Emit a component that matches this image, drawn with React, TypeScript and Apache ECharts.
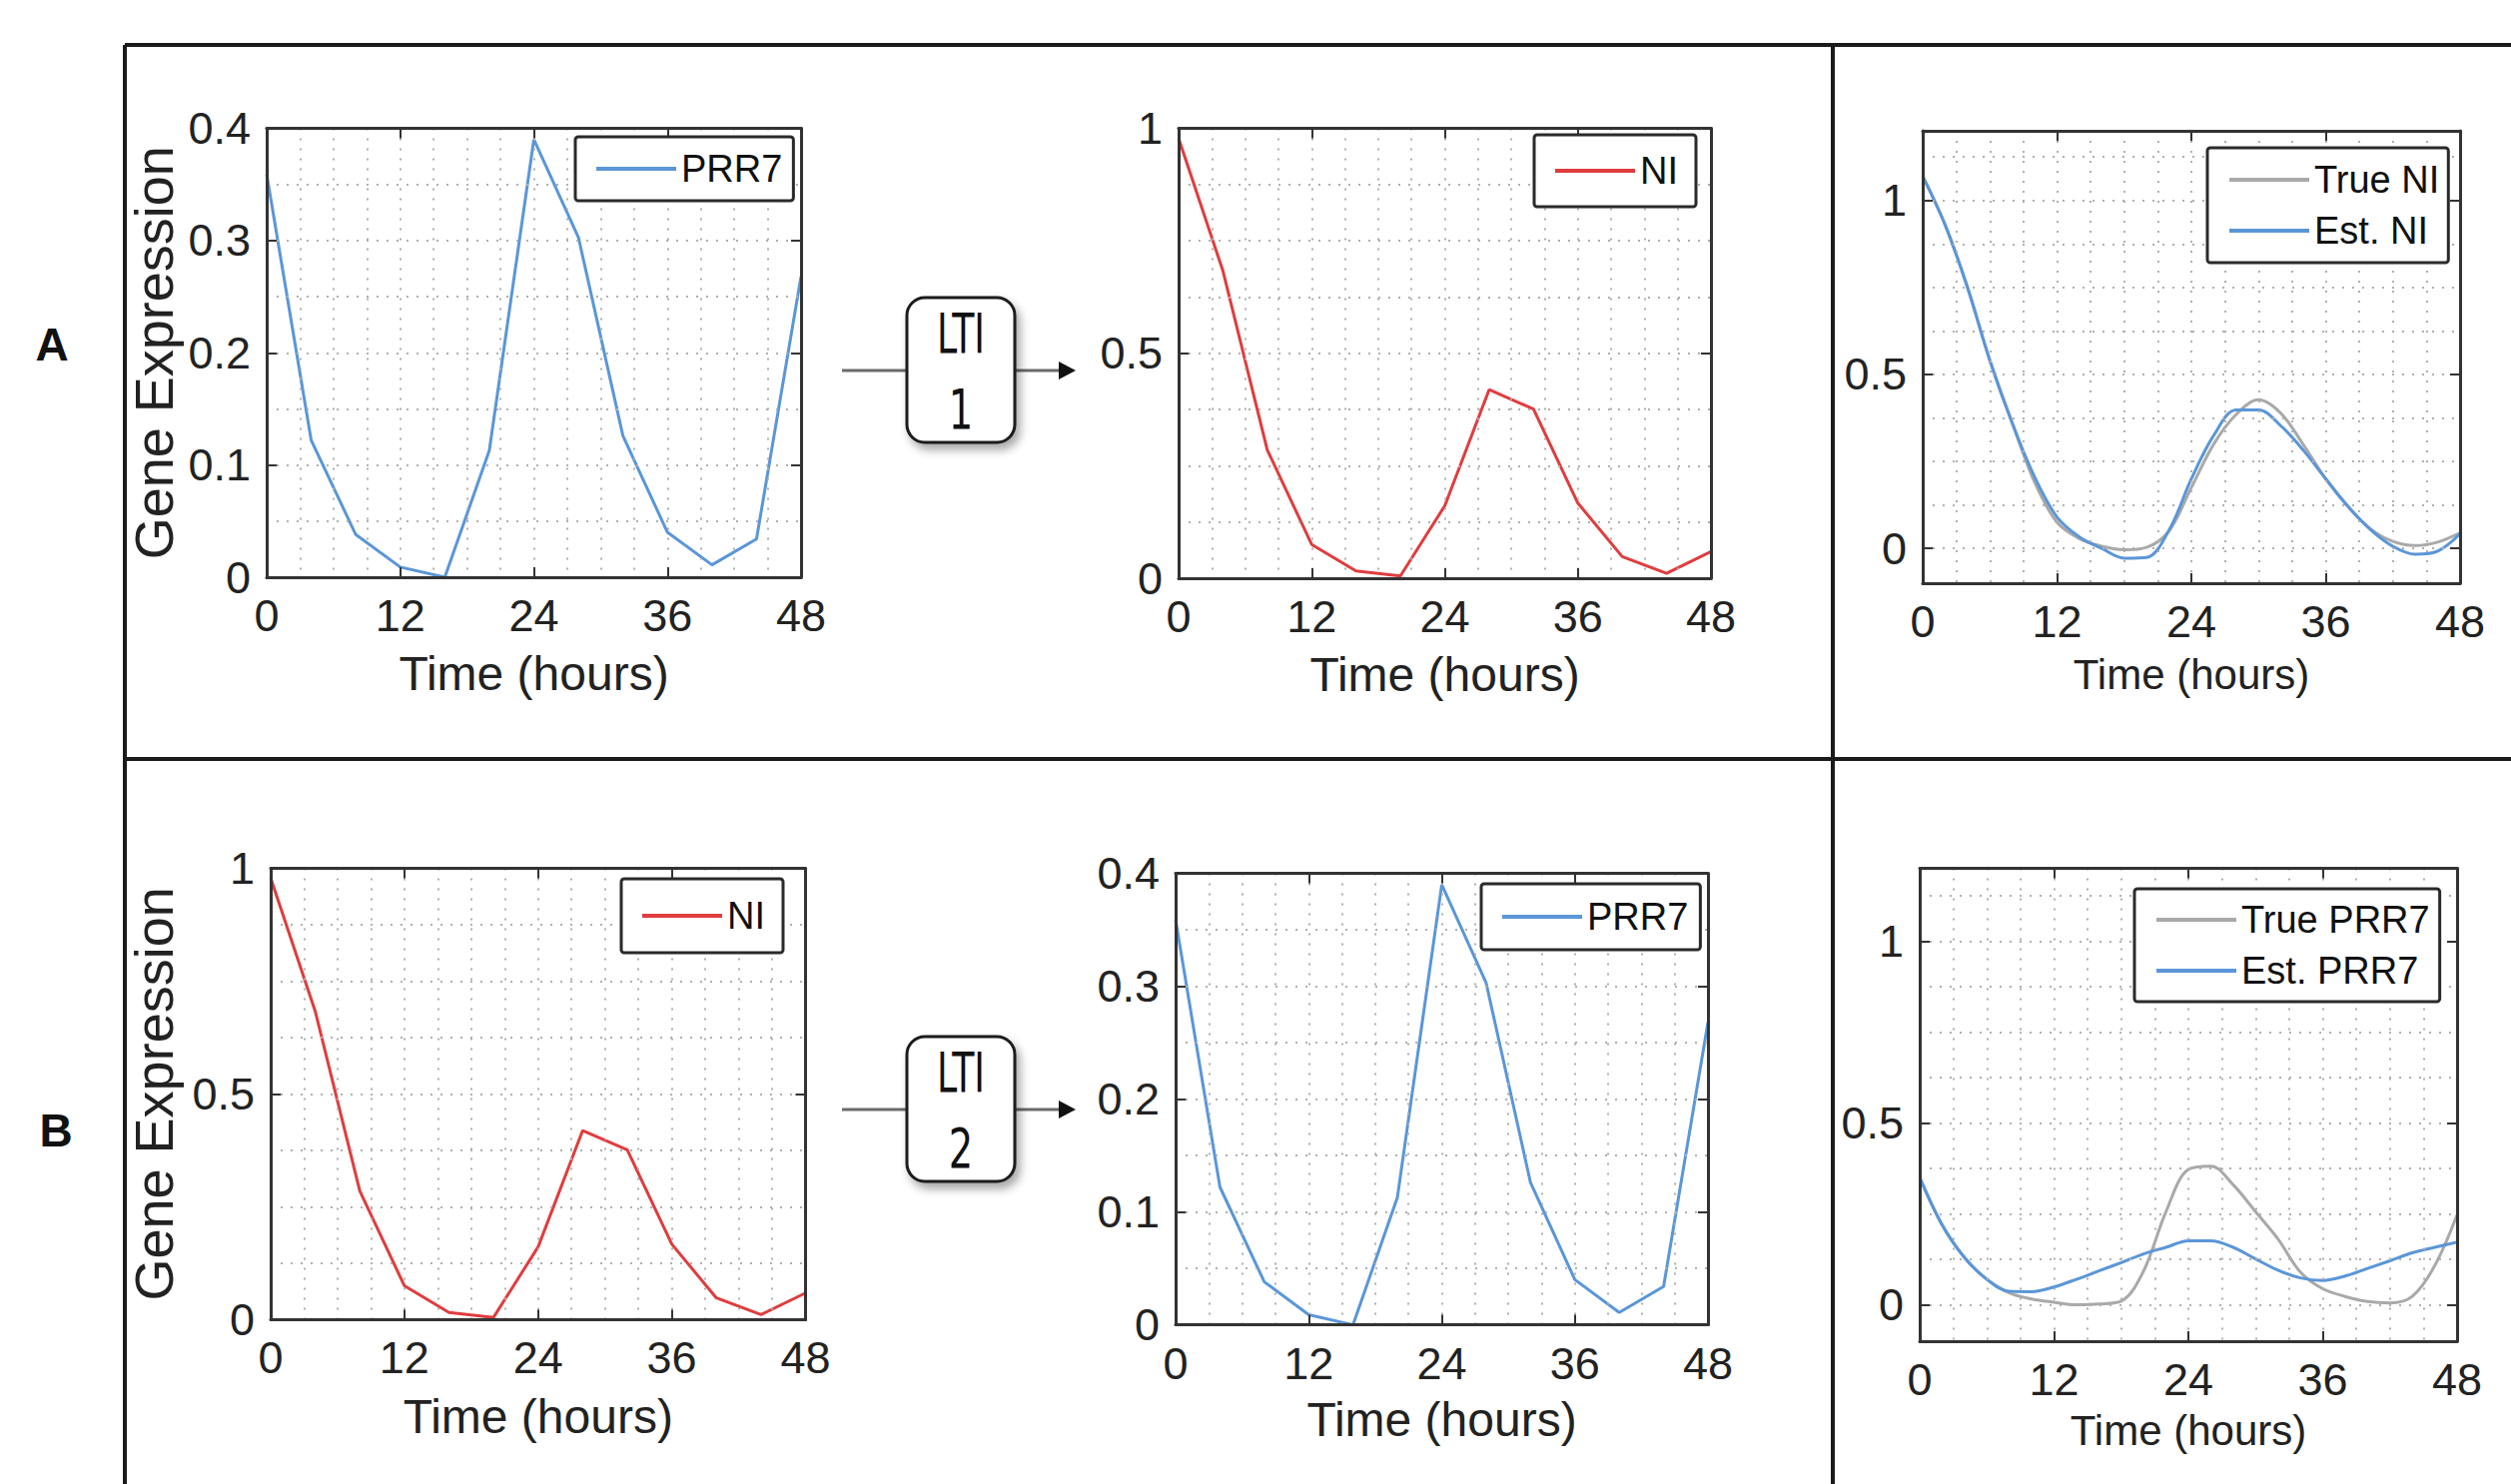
import React, { useEffect, useRef } from "react";
import * as echarts from "echarts";

// ---------- data ----------
const HOURS_4 = [0, 4, 8, 12, 16, 20, 24, 28, 32, 36, 40, 44, 48];
const PRR7_VALUES = [0.359, 0.122, 0.038, 0.009, 0.0, 0.113, 0.39, 0.303, 0.126, 0.04, 0.011, 0.034, 0.268];
const NI_VALUES = [0.978, 0.683, 0.285, 0.075, 0.016, 0.005, 0.161, 0.419, 0.376, 0.167, 0.048, 0.011, 0.059];

const HOURS_2 = [0, 2, 4, 6, 8, 10, 12, 14, 16, 18, 20, 22, 24, 26, 28, 30, 32, 34, 36, 38, 40, 42, 44, 46, 48];
const TRUE_NI = [1.07, 0.93, 0.75, 0.54, 0.36, 0.19, 0.075, 0.028, 0.006, -0.004, 0.003, 0.05, 0.175, 0.3, 0.385, 0.427, 0.388, 0.298, 0.2, 0.12, 0.056, 0.02, 0.008, 0.018, 0.045];
const EST_NI = [1.07, 0.93, 0.75, 0.54, 0.36, 0.205, 0.09, 0.033, 0.0, -0.028, -0.026, 0.052, 0.2, 0.325, 0.398, 0.398, 0.352, 0.282, 0.2, 0.12, 0.054, 0.006, -0.017, -0.008, 0.042];
const TRUE_PRR7 = [0.35, 0.22, 0.13, 0.07, 0.033, 0.016, 0.007, 0.0, 0.002, 0.01, 0.093, 0.256, 0.372, 0.381, 0.33, 0.256, 0.181, 0.09, 0.044, 0.023, 0.009, 0.005, 0.023, 0.107, 0.247];
const EST_PRR7 = [0.35, 0.22, 0.13, 0.07, 0.037, 0.036, 0.049, 0.07, 0.093, 0.116, 0.14, 0.158, 0.176, 0.176, 0.158, 0.126, 0.095, 0.074, 0.067, 0.079, 0.1, 0.121, 0.143, 0.158, 0.172];

const X_TICKS_STEP = 12;
const EST_Y_LABELS = [0, 0.5, 1];
const EST_Y_GRID = [0, 0.125, 0.25, 0.375, 0.5, 0.625, 0.75, 0.875, 1, 1.125];
const X_NAME = "Time (hours)";
const Y_NAME = "Gene Expression";

// ---------- styles ----------
const BLUE = "#5a96d8";
const RED = "#e03c3e";
const GRAY = "#a9a9a9";
const GRID_C = "#b0b0b0";
const INK = "#222";
const AXIS_C = "#333";
const FONT_R = "'Liberation Sans', Arial, sans-serif";
const TICK_FS = 45;
const LEGEND_FS = 38;

type SeriesDef = { name: string; x: number[]; y: number[]; color: string };
type Panel = {
  grid: [number, number, number, number];
  yKind: "p" | "n" | "e";
  yName?: string;
  yNameGap?: number;
  xNameGap: number;
  nameSize: number;
  legend: [number, number, number[]];
  smooth: boolean;
  series: SeriesDef[];
};

const PANELS: Panel[] = [
  {
    grid: [267, 128.5, 535, 449.5], yKind: "p", yName: Y_NAME, yNameGap: 86, xNameGap: 72, nameSize: 48,
    legend: [576, 137, [8, 11, 8, 19]], smooth: false,
    series: [{ name: "PRR7", x: HOURS_4, y: PRR7_VALUES, color: BLUE }],
  },
  {
    grid: [1180, 128.5, 533, 450.5], yKind: "n", xNameGap: 72, nameSize: 48,
    legend: [1536, 135, [12, 18, 12, 19]], smooth: false,
    series: [{ name: "NI", x: HOURS_4, y: NI_VALUES, color: RED }],
  },
  {
    grid: [1925, 131, 538, 453], yKind: "e", xNameGap: 70, nameSize: 42,
    legend: [2210, 148, [8, 9, 8, 20]], smooth: true,
    series: [
      { name: "True NI", x: HOURS_2, y: TRUE_NI, color: GRAY },
      { name: "Est. NI", x: HOURS_2, y: EST_NI, color: BLUE },
    ],
  },
  {
    grid: [271, 869.4, 535.5, 452], yKind: "n", yName: Y_NAME, yNameGap: 90, xNameGap: 73, nameSize: 48,
    legend: [622, 880, [13, 18, 13, 19]], smooth: false,
    series: [{ name: "NI", x: HOURS_4, y: NI_VALUES, color: RED }],
  },
  {
    grid: [1177, 874.6, 533, 452], yKind: "p", xNameGap: 71, nameSize: 48,
    legend: [1483, 885, [9, 12, 9, 19]], smooth: false,
    series: [{ name: "PRR7", x: HOURS_4, y: PRR7_VALUES, color: BLUE }],
  },
  {
    grid: [1922, 869.4, 538, 473.6], yKind: "e", xNameGap: 68, nameSize: 42,
    legend: [2137, 890, [7, 10, 7, 20]], smooth: true,
    series: [
      { name: "True PRR7", x: HOURS_2, y: TRUE_PRR7, color: GRAY },
      { name: "Est. PRR7", x: HOURS_2, y: EST_PRR7, color: BLUE },
    ],
  },
];

const gridLine = (color: any) => ({ show: true, lineStyle: { color, width: 2, type: [2, 8] } });
const axisLine = { show: true, onZero: false, lineStyle: { color: AXIS_C, width: 3 } };
const tickStyle = { show: true, inside: true, length: 10, lineStyle: { color: AXIS_C, width: 2 } };

function yRange(kind: string) {
  if (kind === "p") return { min: 0, max: 0.4, interval: 0.1, minorSplit: 2 };
  return { min: 0, max: 1, interval: 0.5, minorSplit: 4 };
}

function buildOption() {
  const grids: any[] = [];
  const xAxes: any[] = [];
  const yAxes: any[] = [];
  const series: any[] = [];
  const legends: any[] = [];

  PANELS.forEach((p, i) => {
    const [l, t, w, h] = p.grid;
    grids.push({ left: l, top: t, width: w, height: h, show: true, backgroundColor: "#fff", borderWidth: 0 });

    const xIndex = xAxes.length;
    const xc = { type: "value", min: 0, max: 48, interval: X_TICKS_STEP, gridIndex: i };
    xAxes.push({
      ...xc,
      position: "bottom",
      name: X_NAME,
      nameLocation: "middle",
      nameGap: p.xNameGap,
      nameTextStyle: { fontFamily: FONT_R, fontSize: p.nameSize, color: INK },
      axisLine,
      axisTick: tickStyle,
      axisLabel: { margin: 16, fontFamily: FONT_R, fontSize: TICK_FS, color: INK },
      splitLine: gridLine(GRID_C),
      minorTick: { show: false, splitNumber: 4 },
      minorSplitLine: gridLine(GRID_C),
      z: 5,
    });
    xAxes.push({
      ...xc,
      position: "top",
      axisLine,
      axisTick: tickStyle,
      axisLabel: { show: false },
      splitLine: { show: false },
      z: 5,
    });

    const yIndex = yAxes.length;
    const yNameOpts = {
      name: p.yName || "",
      nameLocation: "middle",
      nameRotate: 90,
      nameGap: p.yNameGap || 0,
      nameTextStyle: { fontFamily: FONT_R, fontSize: 54, color: INK },
    };
    const labelBase = { margin: 16, fontFamily: FONT_R, fontSize: TICK_FS, color: INK };

    if (p.yKind === "e") {
      const yc = { type: "value", min: -0.1, max: 1.2, gridIndex: i };
      yAxes.push({
        ...yc,
        ...yNameOpts,
        position: "left",
        axisLine,
        axisTick: { show: false, customValues: EST_Y_GRID },
        axisLabel: { ...labelBase, customValues: EST_Y_LABELS, formatter: (v: number) => String(v) },
        splitLine: gridLine(GRID_C),
        minorSplitLine: { show: false },
        z: 5,
      });
      yAxes.push({
        ...yc,
        position: "left",
        offset: 0,
        axisLine: { show: false },
        axisTick: { ...tickStyle, customValues: EST_Y_LABELS },
        axisLabel: { show: false },
        splitLine: { show: false },
        z: 5,
      });
      yAxes.push({
        ...yc,
        position: "right",
        axisLine,
        axisTick: { ...tickStyle, customValues: EST_Y_LABELS },
        axisLabel: { show: false },
        splitLine: { show: false },
        z: 5,
      });
    } else {
      const yr = yRange(p.yKind);
      const yc = { type: "value", min: yr.min, max: yr.max, interval: yr.interval, gridIndex: i };
      yAxes.push({
        ...yc,
        ...yNameOpts,
        position: "left",
        axisLine,
        axisTick: tickStyle,
        axisLabel: { ...labelBase, formatter: (v: number) => String(Math.round(v * 1000) / 1000) },
        splitLine: gridLine(GRID_C),
        minorTick: { show: false, splitNumber: yr.minorSplit },
        minorSplitLine: gridLine(GRID_C),
        z: 5,
      });
      yAxes.push({
        ...yc,
        position: "right",
        axisLine,
        axisTick: tickStyle,
        axisLabel: { show: false },
        splitLine: { show: false },
        z: 5,
      });
    }

    p.series.forEach((s) => {
      series.push({
        type: "line",
        name: s.name,
        xAxisIndex: xIndex,
        yAxisIndex: yIndex,
        data: s.x.map((tt, k) => [tt, s.y[k]]),
        symbol: "none",
        smooth: p.smooth ? 0.35 : false,
        lineStyle: { color: s.color, width: 3 },
        itemStyle: { color: s.color },
        z: 3,
      });
    });

    const [ll, lt, pad] = p.legend;
    legends.push({
      data: p.series.map((s) => s.name),
      left: ll,
      top: lt,
      orient: "vertical",
      itemWidth: 80,
      itemHeight: 4,
      itemGap: 3,
      padding: pad,
      backgroundColor: "#fff",
      borderColor: "#2a2a2a",
      borderWidth: 3,
      borderRadius: 3,
      selectedMode: false,
      itemStyle: { opacity: 0 },
      lineStyle: { width: 4 },
      textStyle: { fontFamily: FONT_R, fontSize: LEGEND_FS, color: "#111", lineHeight: 48 },
      z: 10,
    });
  });

  const frame = { stroke: "#1a1a1a", lineWidth: 4 };
  const lti = (cy: number, num: string) => [
    { type: "line", shape: { x1: 843, y1: cy, x2: 909, y2: cy }, style: { stroke: "#6a6a6a", lineWidth: 3 } },
    { type: "line", shape: { x1: 1015, y1: cy, x2: 1062, y2: cy }, style: { stroke: "#6a6a6a", lineWidth: 3 } },
    { type: "polygon", shape: { points: [[1060, cy - 9], [1077, cy], [1060, cy + 9]] }, style: { fill: "#111" } },
    {
      type: "rect",
      shape: { x: 908, y: cy - 73, width: 108, height: 145, r: 18 },
      style: {
        fill: "#fff", stroke: "#1a1a1a", lineWidth: 3,
        shadowBlur: 10, shadowOffsetX: 4, shadowOffsetY: 6, shadowColor: "rgba(0,0,0,0.35)",
      },
    },
    {
      type: "text", x: 962, y: cy - 37, scaleX: 0.66,
      style: { text: "LTI", fontFamily: "'DejaVu Sans', sans-serif", fontSize: 55, fill: "#111", align: "center", verticalAlign: "middle" },
    },
    {
      type: "text", x: 962, y: cy + 39, scaleX: 0.7,
      style: { text: num, fontFamily: "'DejaVu Sans', sans-serif", fontSize: 55, fill: "#111", align: "center", verticalAlign: "middle" },
    },
  ];

  const graphic = [
    { type: "line", shape: { x1: 125, y1: 45, x2: 2514, y2: 45 }, style: frame },
    { type: "line", shape: { x1: 125, y1: 45, x2: 125, y2: 1486 }, style: frame },
    { type: "line", shape: { x1: 125, y1: 760, x2: 2514, y2: 760 }, style: frame },
    { type: "line", shape: { x1: 1835, y1: 45, x2: 1835, y2: 1486 }, style: frame },
    {
      type: "text", x: 52, y: 345,
      style: { text: "A", fontFamily: FONT_R, fontWeight: "bold", fontSize: 46, fill: "#111", align: "center", verticalAlign: "middle" },
    },
    {
      type: "text", x: 56, y: 1132,
      style: { text: "B", fontFamily: FONT_R, fontWeight: "bold", fontSize: 46, fill: "#111", align: "center", verticalAlign: "middle" },
    },
    ...lti(371, "1"),
    ...lti(1111, "2"),
  ];

  return {
    animation: false,
    backgroundColor: "#fff",
    grid: grids,
    xAxis: xAxes,
    yAxis: yAxes,
    series,
    legend: legends,
    graphic,
  };
}

export default function App() {
  const ref = useRef<HTMLDivElement>(null);
  useEffect(() => {
    if (!ref.current) return;
    const chart = echarts.init(ref.current, undefined, { renderer: "svg" });
    chart.setOption(buildOption() as any);
    return () => chart.dispose();
  }, []);
  return (
    <div
      ref={ref}
      style={{ position: "absolute", left: 0, top: 0, width: 2514, height: 1486, background: "#fff" }}
    />
  );
}
